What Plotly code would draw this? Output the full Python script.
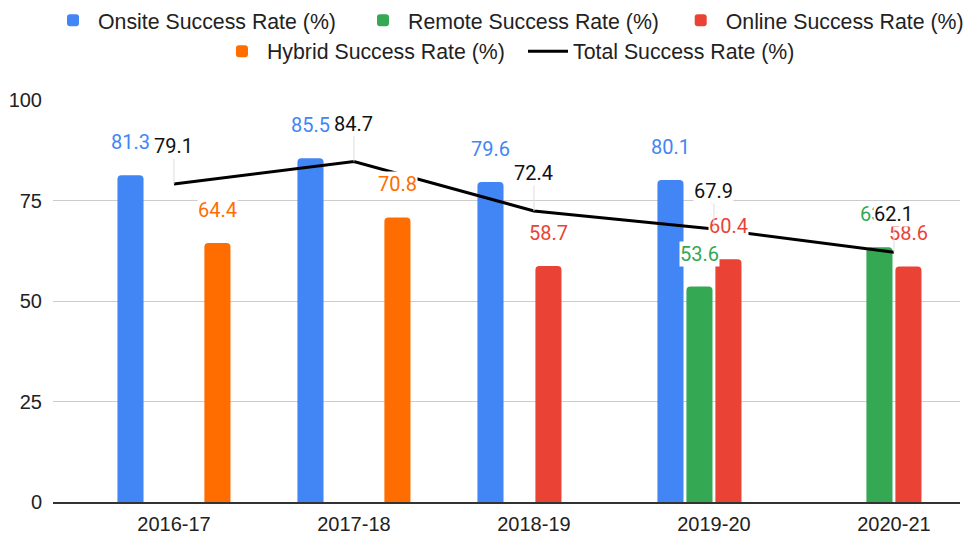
import plotly.graph_objects as go

# data
years = ['2016-17', '2017-18', '2018-19', '2019-20', '2020-21']
onsite = [81.3, 85.5, 79.6, 80.1, None]
remote = [None, None, None, 53.6, 63.4]
online = [None, None, 58.7, 60.4, 58.6]
hybrid = [64.4, 70.8, None, None, None]
total = [79.1, 84.7, 72.4, 67.9, 62.1]

bar_series = [
    ('Onsite Success Rate (%)', onsite, '#4285F4', 'legend'),
    ('Remote Success Rate (%)', remote, '#34A853', 'legend2'),
    ('Online Success Rate (%)', online, '#EA4335', 'legend3'),
    ('Hybrid Success Rate (%)', hybrid, '#FF6D01', 'legend4'),
]

AXIS_FONT = dict(family='Arial, Liberation Sans, sans-serif', size=20, color='#222222')
LEGEND_FONT = dict(family='Arial, Liberation Sans, sans-serif', size=21.3, color='#222222')
LABEL_FONT = 'Roboto, sans-serif'
SLOT = 29  # px per bar slot inside a group

fig = go.Figure()
annotations = []

for k, (name, vals, color, leg) in enumerate(bar_series):
    fig.add_trace(go.Bar(
        x=years, y=vals, name=name, legend=leg,
        marker=dict(color=color, cornerradius=4, line=dict(width=0)),
    ))
    for yr, v in zip(years, vals):
        if v is None:
            continue
        annotations.append(dict(
            x=yr, y=v, xref='x', yref='y', text=f'{v:.1f}', showarrow=False,
            xshift=(k - 1.5) * SLOT, yshift=33, yanchor='middle',
            font=dict(family=LABEL_FONT, size=20, color=color),
            bgcolor='white', borderpad=0,
        ))

fig.add_trace(go.Scatter(
    x=years, y=total, mode='lines', name='Total Success Rate (%)', legend='legend5',
    line=dict(color='black', width=3),
))
for yr, v in zip(years, total):
    annotations.append(dict(
        x=yr, y=v, xref='x', yref='y', text=f'{v:.1f}',
        showarrow=True, arrowhead=0, arrowwidth=1, arrowcolor='#dddddd',
        ax=0, ay=-38, standoff=0,
        font=dict(family=LABEL_FONT, size=20, color='#111111'),
        bgcolor='white', borderpad=0,
    ))


def one_item_legend(x, y):
    # every legend entry gets its own legend box so it sits where the original has it
    return dict(orientation='h', xref='container', yref='container',
                x=x, xanchor='left', y=y, yanchor='top',
                font=LEGEND_FONT, itemwidth=40, itemclick=False,
                bgcolor='rgba(0,0,0,0)')


fig.update_layout(
    width=966, height=541,
    margin=dict(l=53, r=6, t=100, b=39, autoexpand=False),
    plot_bgcolor='white', paper_bgcolor='white',
    barmode='group', bargap=0.356, bargroupgap=0.1,
    showlegend=True,
    legend=one_item_legend(0.0497, 1.0),
    legend2=one_item_legend(0.3706, 1.0),
    legend3=one_item_legend(0.6995, 1.0),
    legend4=one_item_legend(0.2246, 0.943),
    legend5=one_item_legend(0.5414, 0.943),
    annotations=annotations,
)

fig.update_xaxes(
    range=[-0.672, 4.367], showgrid=False,
    showline=True, linecolor='#333333', linewidth=1.5,
    tickfont=AXIS_FONT, ticklabelstandoff=3,
)
fig.update_yaxes(
    range=[0, 100], dtick=25, showgrid=True, gridcolor='#cccccc',
    zeroline=False, showline=False,
    tickfont=AXIS_FONT, ticklabelstandoff=10,
)

fig.write_html("out.html", config={'displayModeBar': False},
               post_script="document.body.style.margin='0';")
